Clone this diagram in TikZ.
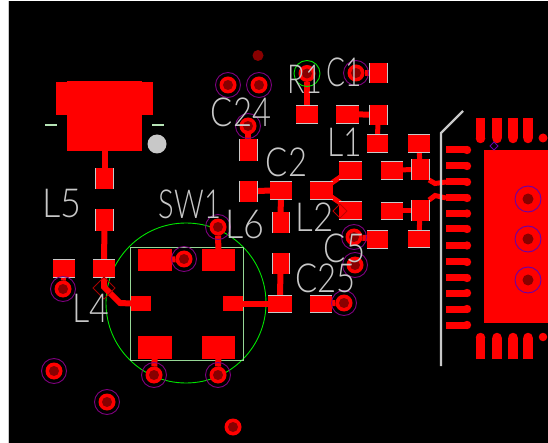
\documentclass[tikz,border=0pt]{standalone}
\usepackage{fontspec}
\usepackage{graphicx}
\setsansfont{Lato Light}
\usetikzlibrary{shapes.geometric}
\pgfdeclarelayer{under}
\pgfsetlayers{under,main}
\definecolor{padred}{RGB}{255,0,0}
\definecolor{holered}{RGB}{136,0,0}
\definecolor{ringpurple}{RGB}{125,0,125}
\definecolor{ringblue}{RGB}{105,0,170}
\definecolor{silk}{RGB}{200,200,200}
\definecolor{swgreen}{RGB}{150,215,150}
\tikzset{
  x=1pt,y=-1pt,
  padbox/.style={rectangle,fill=padred,draw=none,inner sep=0pt,outer sep=0pt},
  padtick/.style={draw=silk,line width=0.9pt},
  trace/.style={draw=padred,line width=6pt},
  thintrace/.style={draw=padred,line width=5pt},
  lab/.style={font=\fontsize{40}{40}\sffamily,text=silk,inner sep=0pt,outer sep=0pt,anchor=center},
  viaring/.style={circle,draw=ringpurple,line width=0.9pt,minimum size=25pt,inner sep=0pt,outer sep=0pt},
  viapad/.style={circle,fill=padred,minimum size=17pt,inner sep=0pt,outer sep=0pt},
  viahole/.style={circle,fill=holered,minimum size=10pt,inner sep=0pt,outer sep=0pt},
  finger/.style={draw=padred,line width=7pt},
  marker/.style={diamond,draw=#1,line width=0.8pt,fill=none,inner sep=0pt,outer sep=0pt}
}
% name, left, top, right, bottom
\newcommand{\padat}[5]{%
  \node[padbox,minimum width=#4pt-#2pt,minimum height=#5pt-#3pt] (#1) at ({(#2+#4)/2},{(#3+#5)/2}) {};
  \pgfmathparse{(#4-#2)>(#5-#3)?1:0}%
  \ifnum\pgfmathresult>0
    \draw[padtick] (#1.north west) -- (#1.north east);
    \draw[padtick] (#1.south west) -- (#1.south east);
  \else
    \draw[padtick] (#1.north west) -- (#1.south west);
    \draw[padtick] (#1.north east) -- (#1.south east);
  \fi}
\newcommand{\plainpad}[5]{%
  \node[padbox,minimum width=#4pt-#2pt,minimum height=#5pt-#3pt] (#1) at ({(#2+#4)/2},{(#3+#5)/2}) {};}
\newcommand{\viaat}[3]{%
  \node[viaring] (#1r) at (#2,#3) {};
  \node[viapad] (#1) at (#2,#3) {};
  \node[viahole] at (#2,#3) {};}
\newcommand{\bareviaat}[3]{%
  \node[viapad] (#1) at (#2,#3) {};
  \node[viahole] at (#2,#3) {};}
\newcommand{\sq}[2]{\scalebox{#1}[1]{#2}}
\begin{document}
\begin{tikzpicture}
\useasboundingbox (0,0) rectangle (548,443);

% switch outline and board
\begin{pgfonlayer}{under}
\fill[white] (0,0) rectangle (548,443);
\fill[black] (8,1) rectangle (548,443);
\draw[silk,line width=0.8pt] (8,1) -- (8,443);
\node[circle,draw=green!90!black,line width=0.9pt,minimum size=160pt,inner sep=0pt] (swc) at (186,303) {};
\node[rectangle,draw=swgreen,line width=0.9pt,minimum width=113pt,minimum height=113pt,inner sep=0pt] (swr) at (186.5,303.5) {};
\end{pgfonlayer}

% antenna block
\plainpad{ant}{67}{81}{142}{151}
\plainpad{antw}{56}{82}{153}{115}
\draw[draw=swgreen!70!white,line width=2pt] (45,125.5) -- (57,125.5);
\draw[draw=swgreen!70!white,line width=2pt] (152,125.5) -- (164,125.5);
\node[circle,fill=silk,minimum size=19pt,inner sep=0pt] (fid) at (157,144) {};

% pads
\padat{pa}{95.5}{168.5}{113.5}{189}
\padat{pb}{95.5}{209}{113.5}{231}
\padat{pc}{93}{259}{115}{277}
\padat{pd}{53}{259}{75}{277}
\plainpad{sa}{138}{249}{172}{271}
\plainpad{sb}{202}{249}{235}{271}
\plainpad{sc}{138}{336}{172}{359}
\plainpad{sd}{202}{336}{235}{359}
\plainpad{se}{131}{296}{151}{311}
\plainpad{sf}{223}{296}{243}{311}
\padat{c1}{369}{63}{387}{83}
\padat{r1p}{296}{105}{318}{123}
\padat{m1}{336}{105}{359}{123}
\padat{m2}{369}{105}{387}{125}
\padat{m3}{367}{134}{388}{152}
\padat{c24a}{239}{139}{257}{161}
\padat{c24b}{239}{181}{257}{202}
\padat{c2}{270}{181}{292}{199}
\padat{l2}{310}{181}{333}{199}
\padat{u1}{339}{161}{362}{179}
\padat{u2}{339}{201}{362}{219}
\padat{v1}{272}{212}{289}{233}
\padat{v2}{272}{253}{289}{274}
\padat{v3}{268}{295}{292}{312}
\padat{v4}{310}{295}{332}{312}
\padat{c5}{367}{230}{388}{248}
\padat{w1}{408}{230}{430}{247}
\padat{w2}{408}{134}{430}{152}
\padat{x1}{411}{159}{429}{180}
\padat{x2}{411}{200}{429}{221}
\padat{y1}{381}{161}{403}{179}
\padat{y2}{381}{202}{403}{219}

% vias
\viaat{va}{63}{289}
\viaat{vb}{228}{85}
\viaat{vc}{259}{85}
\viaat{vd}{248}{126}
\viaat{ve}{356}{73}
\viaat{vf}{344}{303}
\viaat{vg}{354}{237}
\viaat{vh}{355}{265}
\viaat{vi}{184}{259}
\viaat{vj}{218}{227}
\viaat{vk}{154}{375}
\viaat{vl}{218}{375}
\viaat{vm}{54}{371}
\viaat{vn}{107}{402}
\bareviaat{vo}{233}{427}
\node[circle,draw=green!90!black,line width=0.9pt,minimum size=26pt,inner sep=0pt] (r1g) at (307,73.5) {};
\bareviaat{vr}{307}{73.5}
\node[circle,fill=holered,minimum size=11pt,inner sep=0pt] (vlone) at (258,55.5) {};

% QFN
\plainpad{qfn}{484}{150}{548}{323}
\foreach \n/\yy in {0/150,1/166,2/182,3/198,4/213.5,5/229,6/245.5,7/262,8/278,9/293,10/309,11/325}{
  \coordinate (fa\n) at (446,\yy);
  \coordinate (fb\n) at (467,\yy);
  \draw[finger] (fa\n) -- (fb\n);
  \fill[padred] (fb\n) circle (4.2);
}
\foreach \n/\xx in {0/480.5,1/497,2/513,3/528}{
  \coordinate (ta\n) at (\xx,118);
  \coordinate (tb\n) at (\xx,138.5);
  \draw[draw=padred,line width=9.5pt] (ta\n) -- (tb\n);
  \fill[padred] (tb\n) circle (4.75);
  \coordinate (ba\n) at (\xx,359);
  \coordinate (bb\n) at (\xx,337.5);
  \draw[draw=padred,line width=9.5pt] (ba\n) -- (bb\n);
  \fill[padred] (bb\n) circle (4.75);
}
\node[circle,fill=padred,minimum size=9pt,inner sep=0pt] (dt) at (543,138) {};
\node[circle,fill=padred,minimum size=8.5pt,inner sep=0pt] (db) at (543,337) {};
\foreach \n/\yy in {a/199,b/239,c/280}{
  \node[circle,draw=ringblue,line width=0.9pt,minimum size=26pt,inner sep=0pt] (q\n) at (528,\yy) {};
  \node[viahole,minimum size=11pt] at (528,\yy) {};
}

% traces
\begin{pgfonlayer}{under}
\draw[trace] (ant) -- (pa);
\draw[trace] (pb) -- (pc);
\draw[trace] (pc.south) -- ++(0,10) -- ++(16,16) -- (se.west);
\draw[thintrace] (pd) -- (va);
\draw[trace] (sa.center) -- (vi);
\draw[trace] (sb) -- (vj);
\draw[trace] (sc) -- (vk);
\draw[trace] (sd) -- (vl);
\draw[trace] (sf.east) -- (v3.west);
\draw[trace] (v2) -- (v3);
\draw[trace] (v1) -- (c2);
\draw[trace] (c24b) -- (c2);
\draw[trace] (c24a) -- (vd);
\draw[trace] (r1p) -- (vr);
\draw[trace] (ve) -- (c1);
\draw[trace] (m1) -- (m2);
\draw[thintrace] (m2) -- (m3);
\draw[thintrace] (l2.center) -- (u1.center);
\draw[thintrace] (l2.center) -- (u2.center);
\draw[trace] (v4) -- (vf);
\draw[trace] (vg) -- (c5);
\draw[thintrace] (y1) -- (x1);
\draw[thintrace] (y2) -- (x2);
\draw[thintrace] (w2) -- (x1);
\draw[thintrace] (x2) -- (w1);
\draw[thintrace] (x1.south east) -- ++(6,3.5) -- (fa2);
\draw[thintrace] (x2.north east) -- ++(6,-4.5) -- (fa3);
\end{pgfonlayer}

% markers
\node[marker=red!65!black,minimum width=22pt,minimum height=22pt] (mk1) at (104,288) {};
\node[marker=red!75!black,minimum width=14pt,minimum height=14pt] (mk2) at (340,211) {};
\node[marker=ringblue,minimum width=8pt,minimum height=8pt] (mk3) at (494,146) {};

% silk line
\coordinate (sl0) at (441,366);
\coordinate (sl1) at (441,133);
\coordinate (sl2) at (463,111);
\draw[silk,line width=2.4pt] (sl0) -- (sl1) -- (sl2);

% labels
\node[lab] (tl5) at (62,204) {\sq{.9}{L5}};
\node[lab] (tsw) at (190,204) {\sq{.73}{SW1}};
\node[lab] (tl6) at (245,225) {\sq{.9}{L6}};
\node[lab] (tl2) at (314.5,217) {\sq{.87}{L2}};
\node[lab] (tc5) at (344.5,248) {\sq{.82}{C5}};
\node[lab] (tc25) at (325.5,278) {\sq{.82}{C25}};
\node[lab] (tl4) at (91,308) {\sq{.85}{L4}};
\node[lab] (tc24) at (241,112) {\sq{.82}{C24}};
\node[lab] (tc2) at (286.5,162) {\sq{.82}{C2}};
\node[lab] (tl1) at (345,142) {\sq{.8}{L1}};
\node[lab] (tr1) at (305,79) {\sq{.72}{R1}};
\node[lab] (tc1) at (344.5,72) {\sq{.7}{C1}};
\end{tikzpicture}
\end{document}
